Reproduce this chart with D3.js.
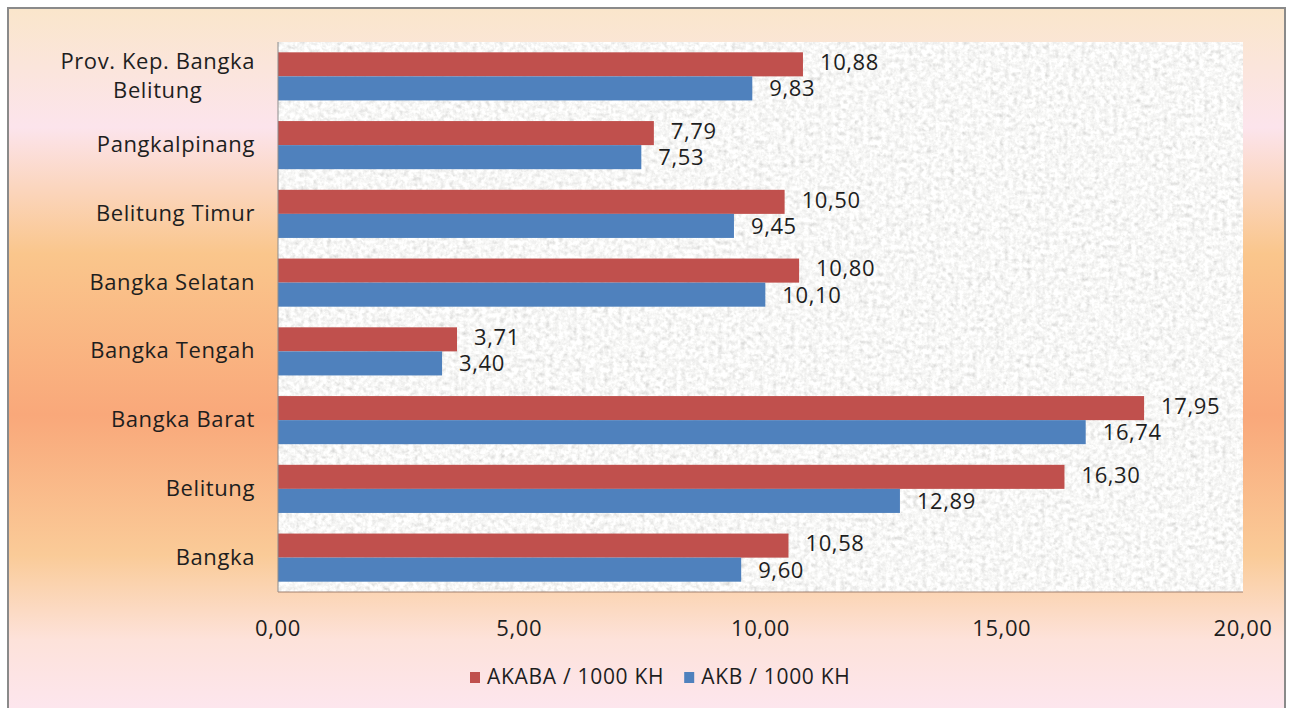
<!DOCTYPE html>
<html>
<head>
<meta charset="utf-8">
<script src="https://cdn.jsdelivr.net/npm/d3@7/dist/d3.min.js"></script>
<style>
html,body{margin:0;padding:0;background:#fff;}
svg{display:block;}
text{font-family:"Open Sans","Noto Sans",sans-serif;fill:#1e1e1e;}
</style>
</head>
<body>
<svg id="chart" width="1290" height="708"></svg>
<script>
const categories = ["Prov. Kep. Bangka|Belitung","Pangkalpinang","Belitung Timur","Bangka Selatan","Bangka Tengah","Bangka Barat","Belitung","Bangka"];
const akaba = [10.88, 7.79, 10.50, 10.80, 3.71, 17.95, 16.30, 10.58];
const akb   = [9.83, 7.53, 9.45, 10.10, 3.40, 16.74, 12.89, 9.60];
const seriesNames = ["AKABA / 1000 KH", "AKB / 1000 KH"];
const tickValues = [0, 5, 10, 15, 20];

(function(){
const colors = ["#c0504d", "#4f81bd"];
const svg = d3.select("#chart");
const defs = svg.append("defs");
const fmt = v => d3.format(".2f")(v).replace(".", ",");

// background gradient
const g = defs.append("linearGradient").attr("id","bg").attr("x1",0).attr("y1",0).attr("x2",0).attr("y2",1);
[[0,"#fae6cb"],[0.17,"#fce4ec"],[0.35,"#fac68c"],[0.58,"#f9a87a"],[0.78,"#facb98"],[0.9,"#fde2da"],[1,"#fde6ee"]]
  .forEach(([o,c]) => g.append("stop").attr("offset",o).attr("stop-color",c));

// noise texture filter
const f = defs.append("filter").attr("id","noise").attr("x",0).attr("y",0).attr("width","100%").attr("height","100%");
f.append("feTurbulence").attr("type","fractalNoise").attr("baseFrequency",0.22).attr("numOctaves",3).attr("seed",3).attr("result","t");
f.append("feColorMatrix").attr("in","t").attr("type","matrix")
  .attr("values","0.3 0.3 0.3 0 0.48  0.3 0.3 0.3 0 0.48  0.3 0.3 0.3 0 0.47  0 0 0 0 1");

// frame
svg.append("rect").attr("x",8).attr("y",8).attr("width",1277).attr("height",702)
  .attr("fill","url(#bg)").attr("stroke","#8a8a8a").attr("stroke-width",2);

const pl = 278, pr = 1243, pt = 42, pb = 592;
const x = d3.scaleLinear().domain([0,20]).range([pl,pr]);
const y = d3.scaleBand().domain(categories).range([pt,pb]).paddingInner(0.3).paddingOuter(0.15);
const sub = d3.scaleBand().domain([0,1]).range([0,y.bandwidth()]);

// plot area
svg.append("rect").attr("x",pl).attr("y",pt).attr("width",pr-pl).attr("height",pb-pt)
  .attr("fill","#eee").attr("filter","url(#noise)");

// bars
const data = [akaba, akb];
data.forEach((vals, si) => {
  svg.append("g").selectAll("rect").data(categories).join("rect")
    .attr("x", x(0))
    .attr("y", (d) => y(d) + sub(si))
    .attr("width", (d,i) => x(vals[i]) - x(0))
    .attr("height", sub.bandwidth())
    .attr("fill", colors[si]);
  svg.append("g").selectAll("text").data(categories).join("text")
    .attr("x", (d,i) => x(vals[i]) + 17)
    .attr("y", (d) => y(d) + sub(si) + sub.bandwidth()/2 + (si === 0 ? 0 : 2))
    .attr("dominant-baseline","middle")
    .attr("font-size", 22).attr("letter-spacing", 0.6)
    .text((d,i) => fmt(vals[i]));
});

// axes lines
svg.append("line").attr("x1",pl).attr("x2",pl).attr("y1",pt).attr("y2",pb).attr("stroke","#8c8c8c").attr("stroke-width",1);
svg.append("line").attr("x1",pl).attr("x2",pr).attr("y1",pb).attr("y2",pb).attr("stroke","#a08070").attr("stroke-width",1);

// x tick labels
svg.append("g").selectAll("text").data(tickValues).join("text")
  .attr("x", d => x(d)).attr("y", 630)
  .attr("text-anchor","middle").attr("dominant-baseline","middle")
  .attr("font-size", 22).attr("letter-spacing", 0.6)
  .text(d => fmt(d));

// category labels
categories.forEach(c => {
  const lines = c.split("|");
  const cy = y(c) + y.bandwidth()/2 + 1;
  const t = svg.append("text").attr("font-size", 22).attr("letter-spacing", 0.6).attr("text-anchor","middle");
  const lh = 29;
  lines.forEach((ln, k) => {
    t.append("tspan").attr("x", 0).attr("y", cy + (k - (lines.length-1)/2) * lh).attr("dominant-baseline","middle").text(ln);
  });
  const w = t.node().getBBox().width;
  t.selectAll("tspan").attr("x", 255 - w/2);
});

// legend
const lg = svg.append("g");
let lx = 470;
seriesNames.forEach((n, i) => {
  lg.append("rect").attr("x", lx).attr("y", 672).attr("width", 10).attr("height", 11).attr("fill", colors[i]);
  const t = lg.append("text").attr("x", lx + 17).attr("y", 678).attr("dominant-baseline","middle")
    .attr("font-size", 21).attr("letter-spacing", 0.7).text(n);
  lx += 17 + t.node().getComputedTextLength() + 20;
});
})();
</script>
</body>
</html>
